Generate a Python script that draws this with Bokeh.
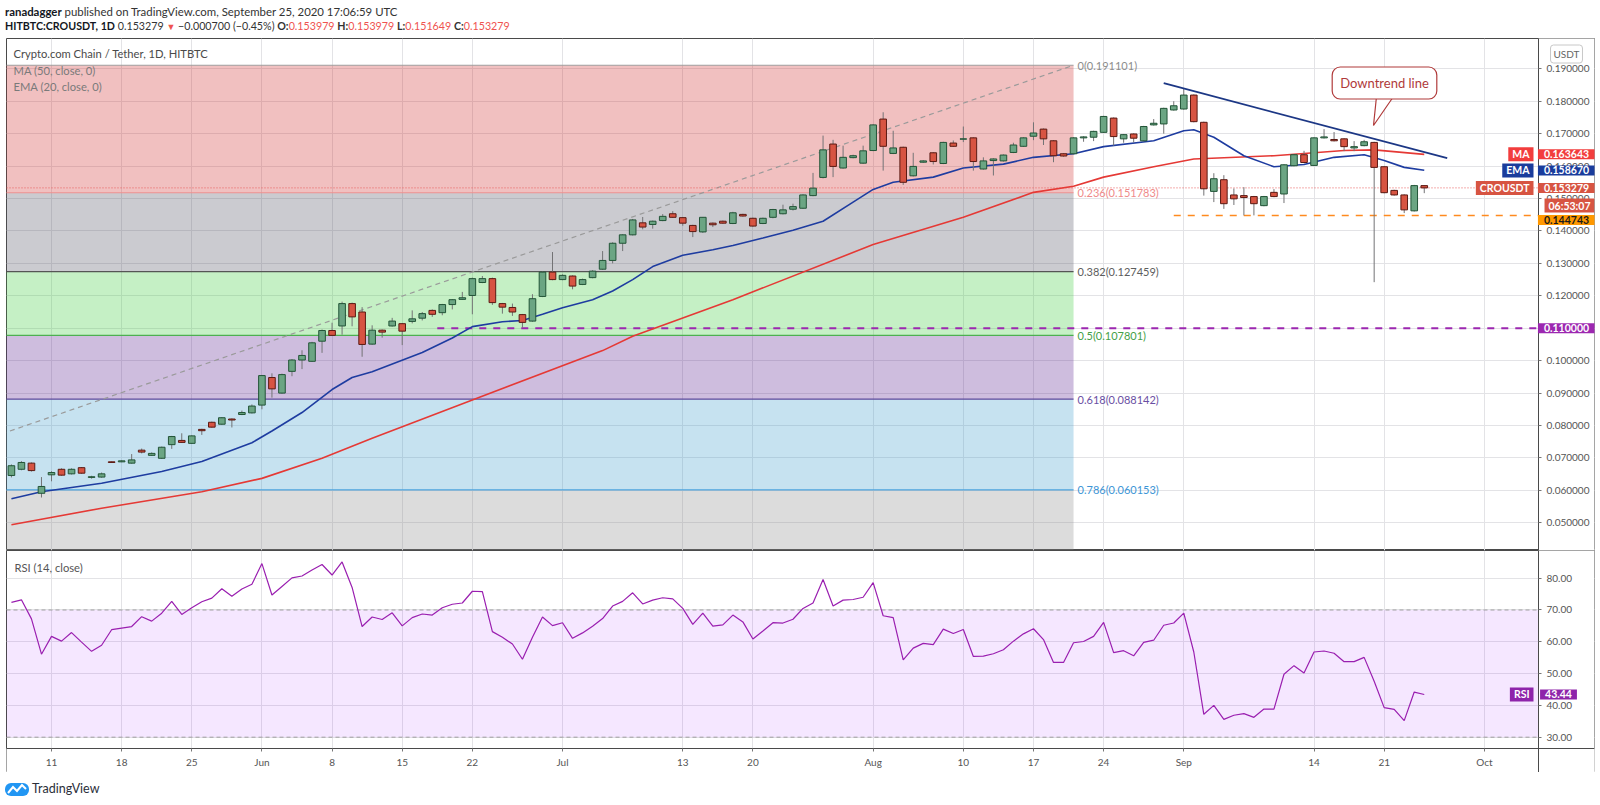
import pandas as pd
from bokeh.plotting import figure
from bokeh.layouts import column
from bokeh.models import (Range1d, FixedTicker, PrintfTickFormatter, Label, LinearAxis,
                          ColumnDataSource, Div)
from bokeh.embed import file_html
from bokeh.resources import INLINE

# ---------------- data ----------------
start_date = "2020-05-07"
opens = [.0646,.0665,.0684,.0591,.0648,.0665,.0651,.0670,.0640,.0641,.0688,.0688,.0684,.0724,.0708,.0699,.0741,.0754,.0745,.0788,.0810,.0804,.0820,.0834,.0839,
         .0863,.0948,.0900,.0967,.1002,.0998,.1060,.1093,.1107,.1176,.1150,.1051,.1094,.1107,.1114,.1121,.1131,.1155,.1148,.1173,.1189,.1201,.1241,.1253,.1176,.1164,.1142,.1122,.1198,.1273,
         .1250,.1261,.1235,.1256,.1282,.1309,.1362,.1388,.1425,.1420,.1432,.1453,.1441,.1417,.1397,.1424,.1430,.1423,.1451,.1439,.1423,.1442,.1453,.1467,.1470,.1509,.1565,.1668,.1594,.1626,.1609,
         .1648,.1745,.1639,.1658,.1570,.1612,.1641,.1608,.1671,.1683,.1687,.1591,.1617,.1616,.1642,.1661,.1692,.1714,.1678,.1638,.1638,.1687,.1689,.1704,.1748,.1684,.1699,.1678,.1727,.1730,.1773,
         .1776,.1819,.1735,.1522,.1558,.1511,.1509,.1506,.1478,.1519,.1514,.1601,.1635,.1602,.1687,.1682,.1684,.1656,.1663,.1673,.1598,.1525,.1511,.1462,.153979]
highs = [.0680,.0690,.0686,.0641,.0659,.0668,.0668,.0672,.0645,.0655,.0689,.0693,.0712,.0729,.0717,.0735,.0768,.0776,.0770,.0790,.0812,.0826,.0822,.0846,.0865,
         .0956,.0961,.0960,.1005,.1032,.1058,.1096,.1117,.1182,.1179,.1165,.1109,.1096,.1132,.1116,.1155,.1150,.1158,.1175,.1190,.1212,.1256,.1261,.1256,.1178,.1176,.1144,.1205,.1275,.1335,
         .1266,.1263,.1253,.1279,.1338,.1365,.1390,.1437,.1443,.1432,.1452,.1461,.1443,.1419,.1443,.1426,.1432,.1459,.1453,.1441,.1441,.1468,.1481,.1484,.1513,.1579,.1694,.1681,.1663,.1635,.1663,
         .1729,.1766,.1709,.1660,.1641,.1618,.1643,.1675,.1679,.1722,.1689,.1627,.1624,.1636,.1672,.1689,.1735,.1716,.1680,.1640,.1689,.1692,.1709,.1755,.1750,.1699,.1701,.1724,.1745,.1780,.1800,
         .1838,.1821,.1737,.1578,.1572,.1531,.1535,.1508,.1508,.1529,.1606,.1637,.1647,.1689,.1714,.1705,.1686,.1677,.1681,.1675,.1600,.1527,.1513,.1542,.153979]
lows = [.0640,.0662,.0658,.0578,.0628,.0645,.0649,.0651,.0636,.0639,.0685,.0687,.0682,.0714,.0706,.0697,.0728,.0746,.0743,.0771,.0793,.0802,.0794,.0832,.0837,
        .0850,.0886,.0898,.0952,.0974,.0996,.1024,.1076,.1080,.1106,.1012,.1049,.1071,.1105,.1048,.1115,.1124,.1135,.1140,.1158,.1187,.1143,.1239,.1172,.1145,.1138,.1102,.1120,.1196,.1248,
        .1248,.1220,.1233,.1254,.1280,.1300,.1338,.1386,.1405,.1407,.1430,.1440,.1416,.1381,.1394,.1412,.1422,.1421,.1444,.1413,.1421,.1439,.1451,.1463,.1468,.1507,.1562,.1566,.1592,.1624,.1607,
        .1646,.1586,.1637,.1542,.1568,.1610,.1605,.1606,.1659,.1674,.1586,.1589,.1571,.1614,.1640,.1659,.1680,.1665,.1612,.1629,.1636,.1675,.1677,.1702,.1663,.1672,.1673,.1676,.1725,.1700,.1771,
        .1774,.1735,.1509,.1489,.1468,.1480,.1448,.1448,.1476,.1504,.1486,.1599,.1609,.1600,.1685,.1676,.1646,.1646,.1661,.1242,.1516,.1509,.1455,.1460,.151649]
closes = [.0676,.0686,.0661,.0612,.0655,.0647,.0665,.0653,.0642,.0651,.0686,.0691,.0694,.0718,.0714,.0733,.0766,.0748,.0768,.0784,.0795,.0824,.0817,.0840,.0860,
          .0954,.0913,.0957,.1002,.1016,.1055,.1093,.1078,.1176,.1135,.1050,.1094,.1088,.1122,.1091,.1129,.1145,.1143,.1173,.1188,.1194,.1253,.1253,.1179,.1165,.1150,.1118,.1191,.1273,.1250,
          .1263,.1230,.1250,.1276,.1309,.1362,.1388,.1434,.1412,.1430,.1445,.1442,.1424,.1398,.1442,.1419,.1424,.1456,.1446,.1415,.1439,.1466,.1465,.1475,.1511,.1532,.1650,.1599,.1627,.1632,.1647,
          .1727,.1661,.1656,.1550,.1599,.1616,.1614,.1673,.1661,.1684,.1614,.1616,.1622,.1634,.1665,.1687,.1702,.1684,.1632,.1631,.1687,.1690,.1707,.1753,.1691,.1697,.1686,.1722,.1732,.1778,.1786,
          .1819,.1737,.1530,.1561,.1484,.1499,.1503,.1484,.1506,.1506,.1604,.1635,.1611,.1687,.1690,.1678,.1660,.1660,.1675,.1596,.1518,.1511,.1465,.153979,.153279]
rsi_values = [72.4,73.2,67.2,56.1,61.7,60.2,62.9,59.9,57.0,58.9,63.8,64.3,64.8,67.9,66.5,69.0,72.7,68.6,70.7,72.6,73.75,76.7,74.3,76.6,78.1,
              84.6,74.7,77.4,80.1,80.7,82.6,84.3,81.0,85.1,77.1,64.8,67.8,67.0,69.1,65.0,67.6,68.75,68.4,70.7,71.8,72.2,75.9,75.8,63.2,61.4,59.3,54.5,61.4,67.8,65.1,
              66.0,61.1,62.8,64.9,67.3,71.25,72.7,75.4,71.9,73.1,73.85,73.5,70.5,65.5,69.0,64.9,65.3,68.4,66.25,60.9,63.4,66.0,65.9,67.1,70.5,72.2,79.6,71.25,73.1,73.3,74.0,
              78.6,68.2,67.6,54.3,58.0,59.5,59.1,64.0,62.6,63.85,55.4,55.5,56.25,57.5,60.2,62.5,64.1,60.7,53.5,53.5,59.7,60.1,61.7,66.1,56.6,57.2,55.6,59.8,60.5,65.2,65.9,
              69.0,56.8,37.2,40.0,35.6,36.9,37.4,36.25,38.85,38.85,49.8,52.5,50.2,56.8,57.1,56.4,53.75,53.75,55.1,47.6,39.3,38.75,35.2,44.2,43.44]

ma_dates = ["2020-05-07","2020-05-16","2020-05-26","2020-06-01","2020-06-07","2020-06-12","2020-06-22","2020-07-05",
            "2020-07-08","2020-07-18","2020-08-01","2020-08-10","2020-08-17","2020-08-21","2020-08-24","2020-08-29",
            "2020-09-02","2020-09-10","2020-09-17","2020-09-20","2020-09-25"]
ma_values = [.0494,.0545,.0596,.0637,.0699,.0761,.0879,.1031,.1075,.1188,.1358,.1442,.1519,.1538,.1566,.1598,
             .1622,.1632,.1648,.1650,.1636]
ema_dates = ["2020-05-07","2020-05-10","2020-05-16","2020-05-22","2020-05-26","2020-05-31","2020-06-02","2020-06-05",
             "2020-06-08","2020-06-10","2020-06-12","2020-06-17","2020-06-20","2020-06-22","2020-06-25","2020-06-27",
             "2020-06-29","2020-07-01","2020-07-04","2020-07-06","2020-07-08","2020-07-10","2020-07-13","2020-07-16",
             "2020-07-18","2020-07-21","2020-07-24","2020-07-27","2020-07-30","2020-08-01","2020-08-03","2020-08-07",
             "2020-08-10","2020-08-14","2020-08-17","2020-08-21","2020-08-24","2020-08-29","2020-09-01","2020-09-02",
             "2020-09-04","2020-09-07","2020-09-10","2020-09-13","2020-09-16","2020-09-19","2020-09-21","2020-09-23","2020-09-25"]
ema_values = [.0574,.0596,.0622,.0658,.0689,.0747,.0783,.0840,.0911,.0948,.0966,.1025,.1070,.1105,.1120,.1124,
              .1143,.1163,.1188,.1215,.1250,.1290,.1325,.1342,.1355,.1378,.1402,.1430,.1489,.1528,.1550,.1566,
              .1594,.1606,.1627,.1638,.1660,.1678,.1709,.1712,.1689,.1632,.1598,.1605,.1627,.1635,.1617,.1596,.1587]

fib_levels = ["0", "0.236", "0.382", "0.5", "0.618", "0.786", "1"]
fib_prices = [0.191101, 0.151783, 0.127459, 0.107801, 0.088142, 0.060153, 0.024500]
fib_start, fib_end = "2020-04-15", "2020-08-21"
fib_trend_dates = ["2020-05-06", "2020-08-21"]
fib_trend_values = [0.0774, 0.191101]
downtrend_dates = ["2020-08-30", "2020-09-27 07:00"]
downtrend_values = [0.18556, 0.16243]
support_start, support_value = "2020-06-18 12:00", 0.110000
recent_low_start, recent_low_value = "2020-08-31", 0.144743
last_price = 0.153279
ma_last, ema_last, rsi_last = 0.163643, 0.158670, 43.44

price_ticks = [0.05, 0.06, 0.07, 0.08, 0.09, 0.10, 0.11, 0.12, 0.13, 0.14, 0.15, 0.16, 0.17, 0.18, 0.19]
rsi_ticks = [30, 40, 50, 60, 70, 80]
x_tick_dates = ["2020-05-11","2020-05-18","2020-05-25","2020-06-01","2020-06-08","2020-06-15","2020-06-22",
                "2020-07-01","2020-07-13","2020-07-20","2020-08-01","2020-08-10","2020-08-17","2020-08-24",
                "2020-09-01","2020-09-14","2020-09-21","2020-10-01"]
x_tick_labels = ["11","18","25","Jun","8","15","22","Jul","13","20","Aug","10","17","24","Sep","14","21","Oct"]

# ---------------- layout constants ----------------
def ms(s):
    return pd.Timestamp(s).value / 1e6

DAY = 86400000.0
W = 1600
FL, FR = 6, 1594                      # frame left / right (page px)
FRAME_W = FR - FL
X0 = ms("2020-05-11") - 4.491 * DAY
X1 = ms("2020-05-11") + 153.99 * DAY
Y0, Y1 = 0.041458, 0.199343           # price frame 38..550
R0, R1 = 18.90, 88.71                 # rsi frame 550..772
FONT = "Lato"

def xpx(ref):
    return X0 + (ref - FL) * (X1 - X0) / FRAME_W
def ypx(ref):
    return Y1 - (ref - 38) * (Y1 - Y0) / 512
def rpx(ref):
    return R1 - (ref - 550) * (R1 - R0) / 222

AXIS_X = xpx(1538)

dates = pd.date_range(start_date, periods=len(opens), freq="D")
dms = [d.value / 1e6 for d in dates]
df = pd.DataFrame(dict(x=dms, o=opens, h=highs, l=lows, c=closes))
df["top"] = df[["o", "c"]].max(axis=1)
df["bot"] = df[["o", "c"]].min(axis=1)
up = df[df.c >= df.o]
dn = df[df.c < df.o]
xticks = [ms(d) for d in x_tick_dates]

def style_axis(ax):
    ax.major_label_text_font = FONT
    ax.major_label_text_font_size = "10px"
    ax.major_label_text_color = "#555555"
    ax.major_tick_out = 3
    ax.major_tick_in = 0
    ax.minor_tick_out = 0
    ax.minor_tick_in = 0
    ax.axis_line_color = "#4a4a4a"
    ax.major_tick_line_color = "#777777"

def lab(fig, x, y, text, size="11.2px", color="#131722", style="normal", align="left", **kw):
    fig.add_layout(Label(x=x, y=y, text=text, text_font=FONT, text_font_size=size,
                         text_color=color, text_font_style=style, text_align=align,
                         text_baseline="middle", **kw))

def tag(fig, y, text, bg, xref=1566, color="white", align="center", hpad=6, size="10.5px"):
    fig.add_layout(Label(x=xpx(xref), y=y, text=text, text_font=FONT,
                         text_font_size=size, text_color=color, text_font_style="bold",
                         text_align=align, text_baseline="middle", background_fill_color=bg,
                         padding=dict(left=hpad, right=hpad, top=1, bottom=1)))

# ---------------- header ----------------
RED = "#ef5350"
header_html = (
    '<div style="font-family:Lato;color:#333;white-space:nowrap;padding:4px 0 0 5px;">'
    '<div style="font-size:11.4px;line-height:15px;"><b style="color:#131722">ranadagger</b> published on '
    'TradingView.com, September 25, 2020 17:06:59 UTC</div>'
    '<div style="font-size:10.7px;line-height:14px;"><b style="color:#131722">HITBTC:CROUSDT, 1D</b> 0.153279 '
    f'<span style="color:{RED};font-size:9px">&#9660;</span> &minus;0.000700 (&minus;0.45%) '
    f'<b>O:</b><span style="color:{RED}">0.153979</span> <b>H:</b><span style="color:{RED}">0.153979</span> '
    f'<b>L:</b><span style="color:{RED}">0.151649</span> <b>C:</b><span style="color:{RED}">0.153279</span></div>'
    '</div>')
header = Div(text=header_html, width=W, height=38, margin=0)

# ---------------- price panel ----------------
p = figure(width=W, height=512, x_range=Range1d(X0, X1), y_range=Range1d(Y0, Y1),
           x_axis_type="datetime", x_axis_location=None, y_axis_location=None,
           toolbar_location=None, output_backend="svg",
           min_border_left=FL, min_border_right=W - FR, min_border_top=0, min_border_bottom=0)
p.outline_line_color = "#4a4a4a"
p.xgrid.ticker = FixedTicker(ticks=xticks)
p.ygrid.ticker = FixedTicker(ticks=price_ticks)
p.grid.grid_line_color = "#e3e3e6"

zone_colors = ["#d03030", "#525262", "#3ecd3e", "#5c2691", "#419ecd", "#8a8a8a"]
line_colors = ["#9e9e9e", "#ef8f8f", "#555555", "#4caf50", "#5e4a9c", "#4aa3df"]
text_colors = ["#8c8c8c", "#ef8a8a", "#5d5d5d", "#43a047", "#6a4fa3", "#3d95d6"]
fz = ColumnDataSource(dict(left=[ms(fib_start)] * 6, right=[ms(fib_end)] * 6,
                           top=fib_prices[:-1], bottom=fib_prices[1:], color=zone_colors))
p.quad(left="left", right="right", top="top", bottom="bottom", fill_color="color",
       fill_alpha=0.3, line_color=None, source=fz)
fl = ColumnDataSource(dict(x0=[ms(fib_start)] * 6, x1=[ms(fib_end)] * 6,
                           y=fib_prices[:-1], color=line_colors))
p.segment(x0="x0", y0="y", x1="x1", y1="y", line_color="color", line_width=1.2, source=fl)
for lvl, pr, col in zip(fib_levels[:-1], fib_prices[:-1], text_colors):
    lab(p, ms(fib_end), pr, f"{lvl}({pr:.6f})", size="11px", color=col, x_offset=4)

p.line([ms(d) for d in fib_trend_dates], fib_trend_values, line_color="#9a9a9a",
       line_dash="5 4", line_width=1.2)
p.line([X0, AXIS_X], [last_price] * 2, line_color="#e85a5a", line_dash="1 2", line_width=1)
p.line([ms(support_start), AXIS_X], [support_value] * 2, line_color="#9c27b0", line_dash="7 7", line_width=2)
p.line([ms(recent_low_start), AXIS_X], [recent_low_value] * 2, line_color="#ff8a1f", line_dash="7 7", line_width=1.6)

p.line([ms(d) for d in ma_dates], ma_values, line_color="#e53935", line_width=1.6)
p.line([ms(d) for d in ema_dates], ema_values, line_color="#1e3ca0", line_width=1.6)

BW = 0.66 * DAY
p.segment(x0="x", y0="l", x1="x", y1="h", line_color="#737375", line_width=1, source=ColumnDataSource(df))
p.vbar(x="x", width=BW, top="top", bottom="bot", fill_color="#6ba583", line_color="#225437",
       line_width=1, source=ColumnDataSource(up))
p.vbar(x="x", width=BW, top="top", bottom="bot", fill_color="#d75442", line_color="#5b1a13",
       line_width=1, source=ColumnDataSource(dn))

p.line([ms(d) for d in downtrend_dates], downtrend_values, line_color="#1c3785", line_width=1.8)
p.patch([xpx(1376), xpx(1373), xpx(1393)], [ypx(96), ypx(125), ypx(96)],
        fill_color="white", line_color="#b03a3a", line_width=1.2)

# white price-scale column
p.quad(left=[AXIS_X], right=[X1 + DAY], top=[Y1 + 1], bottom=[Y0 - 1], fill_color="white", line_color=None)

pa = LinearAxis(fixed_location=AXIS_X, ticker=FixedTicker(ticks=price_ticks),
                formatter=PrintfTickFormatter(format="%.6f"))
style_axis(pa)
pa.major_label_standoff = 5
p.add_layout(pa, "right")

p.add_layout(Label(x=xpx(1384), y=ypx(82.5), text="Downtrend line", text_font=FONT,
                   text_font_size="13px", text_color="#b03a3a", text_align="center",
                   text_baseline="middle", background_fill_color="white",
                   border_line_color="#b03a3a", border_line_width=1.2, border_radius=8, padding=8))

lab(p, xpx(13), ypx(53), "Crypto.com Chain / Tether, 1D, HITBTC", color="#4a4a4a")
lab(p, xpx(13), ypx(70), "MA (50, close, 0)", color="#7a7a7a")
lab(p, xpx(13), ypx(86), "EMA (20, close, 0)", color="#7a7a7a")

tag(p, ma_last, "0.163643", "#f23d3d")
tag(p, ma_last, "MA", "#f23d3d", xref=1533, align="right", hpad=4)
tag(p, ema_last, "0.158670", "#1a3c9c")
tag(p, ema_last, "EMA", "#1a3c9c", xref=1533, align="right", hpad=4)
tag(p, last_price, "0.153279", "#d75442")
tag(p, last_price, "CROUSDT", "#d75442", xref=1533, align="right", hpad=4)
tag(p, ypx(205), "06:53:07", "#d75442", xref=1569, hpad=4)
tag(p, ypx(219.5), "0.144743", "#ff9800", color="#1a1a1a")
tag(p, support_value, "0.110000", "#9c27b0")
p.add_layout(Label(x=xpx(1566), y=ypx(53.5), text="USDT", text_font=FONT, text_font_size="10px",
                   text_color="#666666", text_align="center", text_baseline="middle",
                   background_fill_color="white", border_line_color="#c8c8c8", border_radius=3, padding=3))

# ---------------- RSI panel ----------------
r = figure(width=W, height=222, x_range=p.x_range, y_range=Range1d(R0, R1),
           x_axis_type="datetime", x_axis_location=None, y_axis_location=None,
           toolbar_location=None, output_backend="svg",
           min_border_left=FL, min_border_right=W - FR, min_border_top=0, min_border_bottom=0)
r.outline_line_color = "#4a4a4a"
r.xgrid.ticker = FixedTicker(ticks=xticks)
r.ygrid.ticker = FixedTicker(ticks=rsi_ticks)
r.grid.grid_line_color = "#e3e3e6"
r.quad(left=[X0], right=[AXIS_X], bottom=[30], top=[70], fill_color="#9915ff", fill_alpha=0.1, line_color=None)
for lv in (30, 70):
    r.line([X0, AXIS_X], [lv, lv], line_color="#9e9e9e", line_dash="4 3", line_width=1)
r.line(dms, rsi_values, line_color="#9a1fb0", line_width=1.2)
AXIS_Y = rpx(748)
r.quad(left=[AXIS_X], right=[X1 + DAY], top=[R1 + 5], bottom=[R0 - 5], fill_color="white", line_color=None)
r.quad(left=[X0 - DAY], right=[X1 + DAY], top=[AXIS_Y], bottom=[R0 - 5], fill_color="white", line_color=None)

ra = LinearAxis(fixed_location=AXIS_X, ticker=FixedTicker(ticks=rsi_ticks),
                formatter=PrintfTickFormatter(format="%.2f"))
style_axis(ra)
ra.major_label_standoff = 5
r.add_layout(ra, "right")
xa = LinearAxis(fixed_location=AXIS_Y, ticker=FixedTicker(ticks=xticks))
xa.major_label_overrides = {t: s for t, s in zip(xticks, x_tick_labels)}
style_axis(xa)
xa.major_label_standoff = 4
r.add_layout(xa, "below")

lab(r, xpx(14), rpx(567), "RSI (14, close)", color="#555555")
tag(r, rsi_last, "43.44", "#8e24aa", xref=1558, hpad=5)
tag(r, rsi_last, "RSI", "#8e24aa", xref=1533, align="right", hpad=4)

# ---------------- footer ----------------
footer_html = (
    '<div style="font-family:Lato;font-size:12.5px;color:#2a2e39;padding:8px 0 0 5px;white-space:nowrap;'
    'display:flex;align-items:center;">'
    '<svg width="24" height="16" viewBox="0 0 24 16" style="margin-right:3px">'
    '<rect x="0" y="2" width="24" height="13" rx="6" fill="#2196f3"/>'
    '<polyline points="3,12 8,6 12,10 17,4 21,8" fill="none" stroke="white" stroke-width="2"/>'
    '</svg>TradingView</div>')
footer = Div(text=footer_html, width=W, height=32, margin=0)

layout = column(header, p, r, footer, spacing=0)
open("out.html", "w").write(file_html(layout, INLINE))
